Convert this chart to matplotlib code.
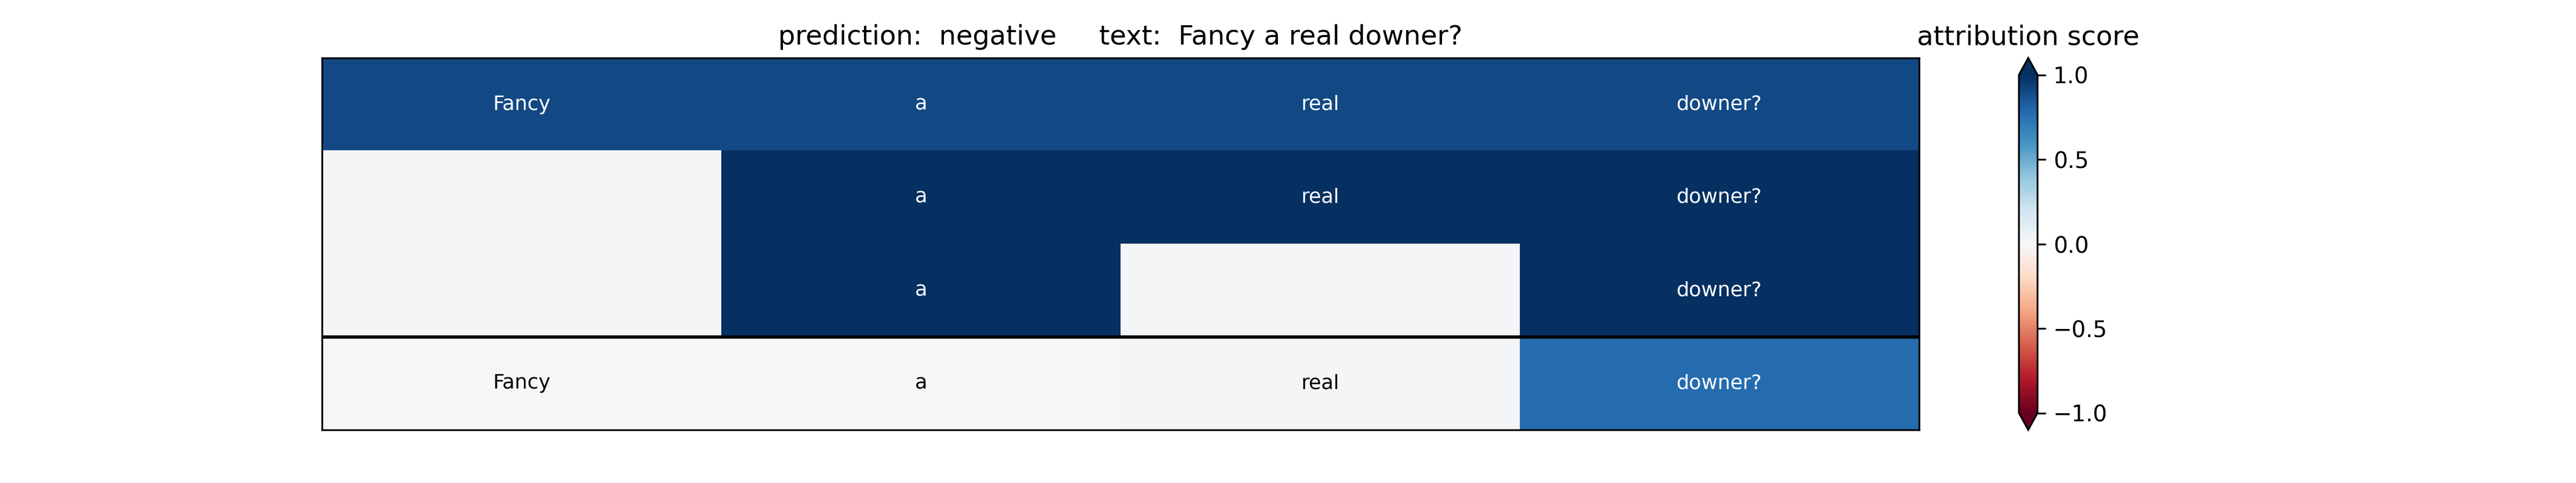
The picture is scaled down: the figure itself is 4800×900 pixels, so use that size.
import numpy as np
import matplotlib
matplotlib.use("Agg")
import matplotlib.pyplot as plt

# ---- data ----
row_tokens = [
    ["Fancy", "a", "real", "downer?"],
    ["", "a", "real", "downer?"],
    ["", "a", "", "downer?"],
    ["Fancy", "a", "real", "downer?"],
]
row_scores = [
    [0.90, 0.90, 0.90, 0.90],
    [0.01, 1.00, 1.00, 1.00],
    [0.01, 1.00, 0.01, 1.00],
    [0.00, 0.00, 0.01, 0.77],
]
prediction = "negative"
text = "Fancy a real downer?"
cbar_label = "attribution score"

fig, ax = plt.subplots(figsize=(16, 3), dpi=300)

n_rows = len(row_scores)
n_cols = len(row_scores[0])
im = None
for i, (scores, toks) in enumerate(zip(row_scores, row_tokens)):
    img = ax.imshow(np.array(scores)[None, :], cmap="RdBu", vmin=-1, vmax=1,
                    extent=(0, n_cols, i + 1, i), aspect="auto",
                    interpolation="nearest")
    if im is None:
        im = img
    for j, (tok, s) in enumerate(zip(toks, scores)):
        if tok:
            ax.text(j + 0.5, i + 0.5, tok, ha="center", va="center",
                    fontsize=9, color="white" if abs(s) > 0.5 else "black")

ax.set_xlim(0, n_cols)
ax.set_ylim(n_rows, 0)
ax.axhline(n_rows - 1, color="black", linewidth=1.5)
ax.set_xticks([])
ax.set_yticks([])
ax.set_title(f"prediction:  {prediction}     text:  {text}")

cbar = fig.colorbar(im, ax=ax, extend="both")
cbar.set_ticks([-1.0, -0.5, 0.0, 0.5, 1.0])
cbar.ax.set_title(cbar_label)

fig.savefig("out.png", dpi=300)
